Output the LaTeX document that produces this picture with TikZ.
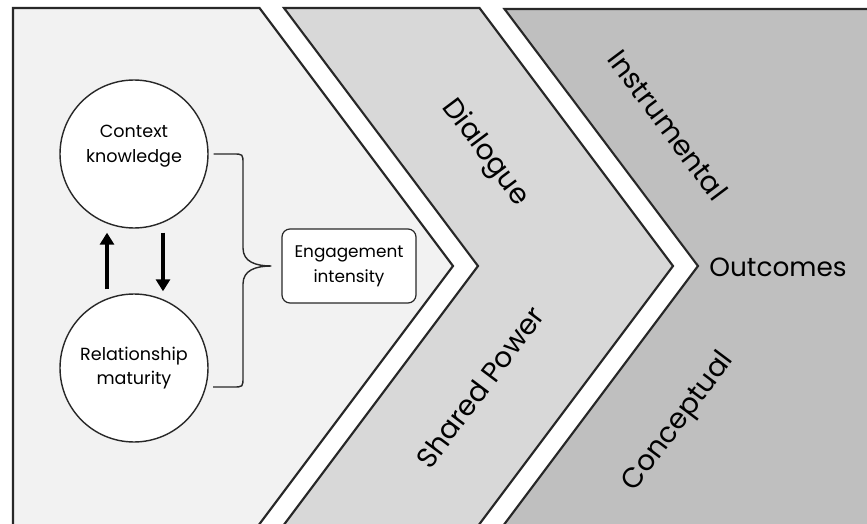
\documentclass[tikz,border=0pt]{standalone}
\usepackage{fontspec}
\setmainfont{Poppins}
\usetikzlibrary{arrows.meta}
\definecolor{paleGray}{RGB}{242,242,242}
\definecolor{midGray}{RGB}{216,216,216}
\definecolor{deepGray}{RGB}{191,191,191}
\definecolor{edgeGray}{RGB}{40,40,40}
\begin{document}
\begin{tikzpicture}
        [x=0.02cm, y=-0.02cm,
        panel/.style={draw=edgeGray, line width=1.2pt, line join=miter},
        bubble/.style={circle, draw=edgeGray, line width=0.8pt, fill=white, minimum size=2.96cm, inner sep=0pt, align=center, font=\fontsize{10}{14}\selectfont},
        tag/.style={rectangle, rounded corners=0.16cm, draw=edgeGray, line width=0.7pt, fill=white, minimum width=2.68cm, minimum height=1.48cm, align=center, font=\fontsize{9.6}{14}\selectfont},
        flow/.style={line width=2.4pt, -{Triangle[width=0.28cm, length=0.24cm]}},
        brace/.style={draw=edgeGray, line width=0.8pt},
        bigText/.style={font=\fontsize{16}{20}\selectfont}]
        \useasboundingbox (0,0) rectangle (867,524);
        \begin{scope}
        \clip (0,0) rectangle (867,524);
        \fill[white] (0,0) rectangle (867,524);
        \draw[panel, fill=paleGray] (13,540) -- (13,8) -- (259.5,8) -- (453,266) -- (247.5,540);
        \draw[panel, fill=midGray] (284,8) -- (479.5,8) -- (673,266) -- (467.5,540) -- (272.5,540) -- (478,266) -- cycle;
        \draw[panel, fill=deepGray] (880,540) -- (492.5,540) -- (698,266) -- (504.5,9) -- (880,9);
        \end{scope}
        
        \node[bubble, label={[align=center, yshift=0.16cm, font=\fontsize{10}{14}\selectfont]center:Context\\knowledge}] (ck) at (134,154) {};
        \node[bubble] (rm) at (134,368) {Relationship\\maturity};
        \node[tag] (eng) at (349,266) {Engagement\\intensity};
        
        \draw[flow] ([xshift=-0.54cm, yshift=0.08cm]rm.north) -- ([xshift=-0.54cm, yshift=-0.08cm]ck.south);
        \draw[flow] ([xshift=0.58cm, yshift=-0.08cm]ck.south) -- ([xshift=0.58cm, yshift=0.04cm]rm.north);
        
        \coordinate (braceEnd) at (213,387);
        \draw[brace] ([xshift=0.1cm]ck.east) -- (233,154) .. controls (243,154) .. (243,164) -- (243,248) .. controls (243,262) and (256,266) .. ([xshift=-0.2cm]eng.west) .. controls (256,266) and (243,270) .. (243,284) -- (243,377) .. controls (243,387) .. (233,387) -- (braceEnd);
        
        \node[bigText, rotate=-53.13] (dialogue) at (485,153) {Dialogue};
        \node[bigText, rotate=53.13] (power) at (480,387) {Shared Power};
        \node[bigText, rotate=-53.13] (instr) at (668,125) {Instrumental};
        \node[bigText, rotate=53.13] (concept) at (679,422) {Conceptual};
        \node[bigText, font=\fontsize{15}{18}\selectfont] (outcomes) at (778,267) {Outcomes};
    
    \end{tikzpicture}
\end{document}
